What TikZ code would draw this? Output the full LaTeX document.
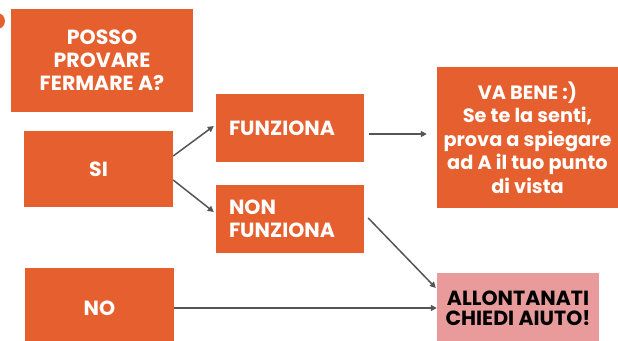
\documentclass[tikz,border=0pt]{standalone}
\usepackage{fontspec}
\setmainfont{Poppins}
\usetikzlibrary{arrows.meta}
\definecolor{boxorange}{HTML}{E65F2E}
\definecolor{boxpink}{HTML}{E99B9B}
\definecolor{arrowgray}{HTML}{555555}
\tikzset{
  obox/.style={fill=boxorange, draw=none, inner sep=0pt, text=white, font=\bfseries\fontsize{20.5}{23}\selectfont, align=center},
  lbox/.style={obox, align=left, text width=#1, inner xsep=13pt},
  pbox/.style={obox, fill=boxpink, text=black, font=\bfseries\fontsize{20.5}{20}\selectfont},
  conn/.style={draw=arrowgray, line width=1.5pt, -{Triangle[length=6pt,width=6pt]}}
}
\begin{document}
\begin{tikzpicture}[x=1pt,y=-1pt]
\useasboundingbox (0,0) rectangle (618,340);
\begin{scope}
\clip (0,0) rectangle (618,340);
\fill[boxorange] (-3,21) circle (8);
\node[obox, minimum width=182pt, minimum height=103pt] (posso) at (102,60.5) {POSSO\\PROVARE\\FERMARE A?};
\node[obox, minimum width=149pt, minimum height=76pt] (si) at (98.5,169) {SI};
\node[obox, minimum width=149pt, minimum height=80pt] (no) at (99.5,308) {NO};
\node[lbox=122pt, minimum width=148pt, minimum height=68pt] (funz) at (290,128) {FUNZIONA};
\node[lbox=122pt, minimum width=148pt, minimum height=68pt] (nonf) at (290,219) {NON\\FUNZIONA};
\node[obox, font=\bfseries\fontsize{19.3}{23.5}\selectfont, minimum width=181pt, minimum height=141pt] (vabene) at (527.5,137.5) {VA BENE :)\\Se te la senti,\\prova a spiegare\\ad A il tuo punto\\di vista};
\node[pbox, minimum width=162pt, minimum height=70pt] (allon) at (518,308) {ALLONTANATI\\CHIEDI AIUTO!};
\end{scope}
\draw[conn] ([yshift=13pt]si.east) -- ([xshift=-2pt,yshift=2pt]funz.west);
\draw[conn] ([yshift=-11pt]si.east) -- ([xshift=-2pt,yshift=7pt]nonf.west);
\draw[conn] ([xshift=5pt,yshift=-6pt]funz.east) -- ([xshift=-10pt,yshift=3.5pt]vabene.west);
\draw[conn] ([xshift=4pt,yshift=1pt]nonf.east) -- ([xshift=-1pt,yshift=20pt]allon.west);
\draw[conn] (no.east) -- (allon.west);
\end{tikzpicture}
\end{document}
